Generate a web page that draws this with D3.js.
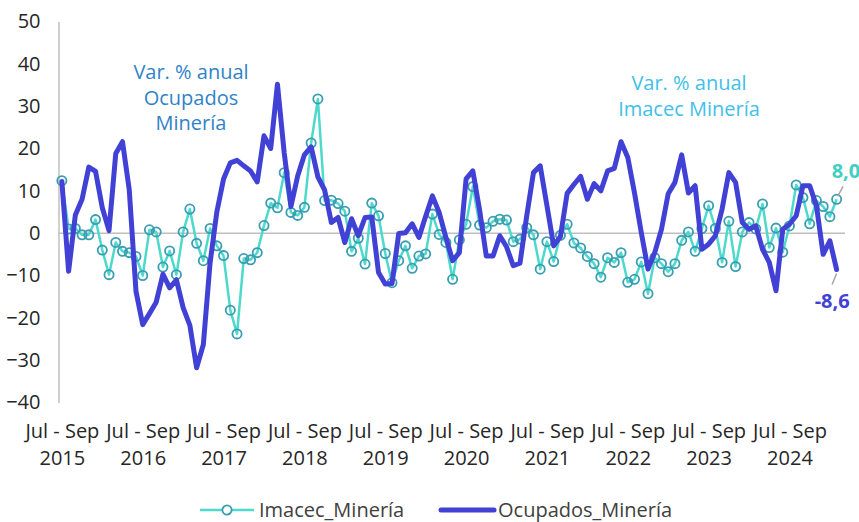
<!DOCTYPE html>
<html>
<head>
<meta charset="utf-8">
<script src="https://cdn.jsdelivr.net/npm/d3@7"></script>
<style>
  body { margin: 0; background: #fff; }
  text { font-family: "Open Sans", "Noto Sans", sans-serif; }
</style>
</head>
<body>
<div id="main-content"></div>
<script>
// Rolling quarters, starting Jul - Sep 2015
const monthNames = ["Ene", "Feb", "Mar", "Abr", "May", "Jun", "Jul", "Ago", "Sep", "Oct", "Nov", "Dic"];
const startMonth = 6;
const startYear = 2015;

const imacec = [
  12.4, 1.0, 1.1, -0.4, -0.4, 3.2, -4.0, -9.8, -2.2, -4.3, -4.6, -5.5,
  -10.0, 0.8, 0.3, -8.0, -4.2, -9.8, 0.3, 5.7, -2.4, -6.5, 1.1, -3.0,
  -5.3, -18.2, -23.8, -6.0, -6.3, -4.6, 1.8, 7.1, 6.0, 14.3, 4.9, 4.2,
  6.1, 21.3, 31.7, 7.7, 7.8, 7.0, 5.2, -4.3, -1.2, -7.3, 7.1, 4.1,
  -4.8, -11.7, -6.5, -3.0, -8.3, -5.4, -4.9, 4.5, -0.3, -2.2, -10.9, -1.6,
  2.1, 11.0, 1.9, 1.3, 2.8, 3.3, 3.1, -2.0, -1.4, 1.3, -0.4, -8.5,
  -2.0, -6.7, -0.5, 2.1, -2.3, -3.5, -5.5, -7.2, -10.4, -5.8, -6.9, -4.6,
  -11.6, -10.9, -6.8, -14.3, -5.8, -7.2, -9.1, -7.2, -1.7, 0.3, -4.3, 1.1,
  6.5, 1.1, -6.9, 2.8, -7.9, 0.3, 2.5, 1.0, 6.9, -3.4, 1.2, -4.5,
  1.7, 11.4, 8.4, 2.2, 7.7, 6.3, 3.9, 8.0
];

const ocupados = [
  12.2, -9.0, 4.3, 8.0, 15.6, 14.6, 6.0, 0.6, 18.8, 21.6, 10.3, -13.7,
  -21.6, -19.0, -16.3, -9.7, -12.9, -11.0, -17.6, -21.8, -31.8, -26.3, -7.0, 5.0,
  12.8, 16.6, 17.2, 15.9, 14.7, 12.1, 23.0, 20.0, 35.2, 19.0, 6.3, 13.5,
  18.5, 20.4, 13.3, 10.2, 2.5, 3.7, -2.2, 3.4, -0.6, 3.7, 3.8, -9.3,
  -12.0, -11.9, -0.1, 0.1, 2.2, -1.0, 4.0, 8.8, 4.9, -1.0, -6.5, -4.6,
  12.8, 14.7, 5.5, -5.4, -5.4, -0.6, -3.2, -7.7, -7.1, 4.1, 14.3, 15.9,
  6.5, -3.0, -0.8, 9.4, 11.5, 13.4, 8.0, 11.7, 10.0, 14.7, 15.3, 21.6,
  17.9, 9.5, 0.2, -8.5, -4.6, 0.9, 9.3, 12.0, 18.5, 9.5, 11.2, -3.8,
  -2.6, -0.6, 5.7, 14.3, 12.0, 2.5, 0.9, 1.7, -3.8, -6.9, -13.6, 0.9,
  2.1, 4.1, 11.2, 11.2, 6.5, -5.0, -1.8, -8.6
];

const yTicks = [-40, -30, -20, -10, 0, 10, 20, 30, 40, 50];

const categories = imacec.map((v, i) => {
  const m = (startMonth + i) % 12;
  const yr = startYear + Math.floor((startMonth + i) / 12);
  return monthNames[m] + " - " + monthNames[(m + 2) % 12] + " " + yr;
});

const width = 859;
const height = 522;
const plotLeft = 58.5, plotRight = 840, plotTop = 21.5, plotBottom = 402.5;
const fontSize = "20px";

const colImacec = "#4dd9cb";
const colMarker = "#3a9db2";
const colOcup = "#4141d6";

const svg = d3.select("#main-content")
  .append("svg")
  .attr("width", width)
  .attr("height", height);

const x = d3.scalePoint()
  .domain(categories)
  .range([plotLeft, plotRight])
  .padding(0.5);

const y = d3.scaleLinear()
  .domain([-40, 50])
  .range([plotBottom, plotTop]);

// y axis
const yAxis = svg.append("g")
  .attr("transform", `translate(${plotLeft},0)`)
  .call(d3.axisLeft(y).tickValues(yTicks).tickSize(0).tickSizeOuter(0).tickPadding(18));
yAxis.select(".domain").attr("stroke", "#bfbfbf").attr("stroke-width", 1.5);
yAxis.selectAll("text")
  .attr("fill", "#262626")
  .style("font-size", fontSize);

// zero line
svg.append("line")
  .attr("x1", plotLeft).attr("x2", 845)
  .attr("y1", y(0)).attr("y2", y(0))
  .attr("stroke", "#bfbfbf")
  .attr("stroke-width", 1.5);

// x axis labels (every 12 months)
const xAxis = svg.append("g")
  .attr("transform", `translate(0,${plotBottom})`)
  .call(d3.axisBottom(x)
    .tickValues(categories.filter((d, i) => i % 12 === 0))
    .tickSize(0)
    .tickPadding(0));
xAxis.select(".domain").remove();
xAxis.selectAll("text")
  .attr("fill", "#262626")
  .style("font-size", fontSize)
  .each(function(d) {
    const parts = d.split(" ");
    const t = d3.select(this).text(null).attr("dy", null).attr("y", 0);
    t.append("tspan").attr("x", 0).attr("y", 35).text(parts.slice(0, 3).join(" "));
    t.append("tspan").attr("x", 0).attr("y", 62).text(parts[3]);
  });

// Imacec line + markers
const line = d3.line()
  .x((d, i) => x(categories[i]))
  .y(d => y(d));

svg.append("path")
  .datum(imacec)
  .attr("fill", "none")
  .attr("stroke", colImacec)
  .attr("stroke-width", 2.5)
  .attr("stroke-linejoin", "round")
  .attr("d", line);

svg.append("g")
  .selectAll("circle")
  .data(imacec)
  .enter()
  .append("circle")
  .attr("cx", (d, i) => x(categories[i]))
  .attr("cy", d => y(d))
  .attr("r", 4.6)
  .attr("fill", "none")
  .attr("stroke", colMarker)
  .attr("stroke-width", 1.8);

// Ocupados line on top
svg.append("path")
  .datum(ocupados)
  .attr("fill", "none")
  .attr("stroke", colOcup)
  .attr("stroke-width", 5)
  .attr("stroke-linejoin", "round")
  .attr("stroke-linecap", "round")
  .attr("d", line);

// last value labels
const n = categories.length - 1;
const lx = x(categories[n]);
const fmt = v => d3.format(".1f")(v).replace(".", ",").replace("−", "-");

svg.append("line")
  .attr("x1", lx + 1).attr("y1", y(imacec[n]) - 3)
  .attr("x2", lx + 6.5).attr("y2", y(imacec[n]) - 13)
  .attr("stroke", "#a6a6a6").attr("stroke-width", 1.5);
svg.append("text")
  .attr("x", lx - 5).attr("y", y(imacec[n]) - 21)
  .attr("fill", "#3fd0c0")
  .style("font-size", fontSize)
  .style("font-weight", "bold")
  .text(fmt(imacec[n]));

svg.append("line")
  .attr("x1", lx).attr("y1", y(ocupados[n]) + 4)
  .attr("x2", lx - 4.5).attr("y2", y(ocupados[n]) + 15)
  .attr("stroke", "#a6a6a6").attr("stroke-width", 1.5);
svg.append("text")
  .attr("x", lx - 22).attr("y", y(ocupados[n]) + 38)
  .attr("fill", colOcup)
  .style("font-size", fontSize)
  .style("font-weight", "bold")
  .text(fmt(ocupados[n]));

// annotations
const annOcup = ["Var. % anual", "Ocupados", "Minería"];
svg.append("text")
  .attr("text-anchor", "middle")
  .attr("fill", "#2f83c8")
  .style("font-size", fontSize)
  .selectAll("tspan")
  .data(annOcup)
  .enter()
  .append("tspan")
  .attr("x", 191)
  .attr("y", (d, i) => 79 + i * 25.5)
  .text(d => d);

const annImacec = ["Var. % anual", "Imacec Minería"];
svg.append("text")
  .attr("text-anchor", "middle")
  .attr("fill", "#41c0ea")
  .style("font-size", fontSize)
  .selectAll("tspan")
  .data(annImacec)
  .enter()
  .append("tspan")
  .attr("x", 689)
  .attr("y", (d, i) => 90 + i * 25.5)
  .text(d => d);

// legend
const legend = svg.append("g").attr("transform", "translate(0,510)");
legend.append("line")
  .attr("x1", 200).attr("x2", 254)
  .attr("stroke", colImacec).attr("stroke-width", 2.5);
legend.append("circle")
  .attr("cx", 227).attr("r", 4.6)
  .attr("fill", "#fff").attr("stroke", colMarker).attr("stroke-width", 1.8);
legend.append("text")
  .attr("x", 259).attr("y", 7)
  .attr("fill", "#404040")
  .style("font-size", fontSize)
  .text("Imacec_Minería");

legend.append("line")
  .attr("x1", 441).attr("x2", 494)
  .attr("stroke", colOcup).attr("stroke-width", 5)
  .attr("stroke-linecap", "round");
legend.append("text")
  .attr("x", 498).attr("y", 7)
  .attr("fill", "#404040")
  .style("font-size", fontSize)
  .text("Ocupados_Minería");
</script>
</body>
</html>
